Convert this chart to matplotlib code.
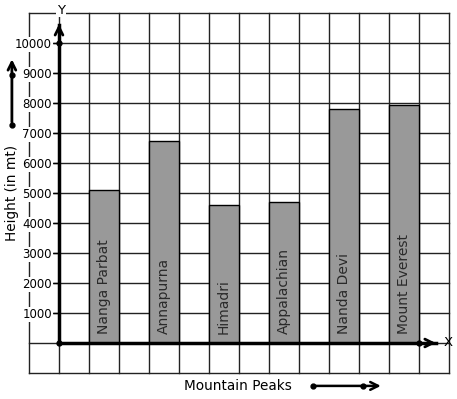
import matplotlib.pyplot as plt
import numpy as np

peaks = ["Nanga Parbat", "Annapurna", "Himadri", "Appalachian", "Nanda Devi", "Mount Everest"]
heights = [5100, 6750, 4600, 4700, 7800, 7930]
bar_left = [1, 3, 5, 7, 9, 11]          # grid column where each bar starts
y_ticks = [1000, 2000, 3000, 4000, 5000, 6000, 7000, 8000, 9000, 10000]

fig = plt.figure(figsize=(4.57, 3.99), dpi=100)
ax = fig.add_axes([29 / 457, 26 / 399, 420 / 457, 360 / 399])
ax.set_xlim(-1, 13)
ax.set_ylim(-1, 11)

# grid: one cell = 1000 m
ax.set_xticks(np.arange(-1, 14), minor=True)
ax.set_yticks(np.arange(-1, 12), minor=True)
ax.tick_params(which='minor', length=0)
ax.set_axisbelow(True)

# bars
h = np.array(heights) / 1000
ax.bar(bar_left, h, width=1, align='edge', color='#999999', edgecolor='black', linewidth=1, zorder=3)
for x0, name in zip(bar_left, peaks):
    ax.text(x0 + 0.5, 0.3, name, rotation=90, ha='center', va='bottom',
            fontsize=10, color='#2a2a2a', zorder=4)

# axes through origin
for s in ['top', 'right']:
    ax.spines[s].set_visible(False)
ax.spines['left'].set_position(('data', 0))
ax.spines['bottom'].set_position(('data', 0))
ax.spines['left'].set_bounds(0, 10.6)
ax.spines['bottom'].set_bounds(0, 12.55)
for s in ['left', 'bottom']:
    ax.spines[s].set_linewidth(2.5)
    ax.spines[s].set_zorder(5)
ax.set_xticks([])
ax.set_yticks(np.array(y_ticks) / 1000)
ax.set_yticklabels([str(v) for v in y_ticks], fontsize=8.5)
ax.tick_params(axis='y', which='major', length=4, width=1, pad=1, direction='out')
for lab in ax.get_yticklabels():
    lab.set_bbox(dict(facecolor='white', edgecolor='none', pad=1))
ax.grid(which='both', color='#222222', linewidth=1, clip_on=False)

arrow = dict(arrowstyle='->', lw=2, color='black', mutation_scale=14)
ax.annotate('', xy=(0, 10.72), xytext=(0, 10.3), arrowprops=arrow, zorder=6)
ax.annotate('', xy=(12.65, 0), xytext=(12.2, 0), arrowprops=arrow, zorder=6)
ax.plot([0, 0, 12], [0, 10, 0], 'o', color='black', ms=3.5, zorder=6, clip_on=False)
ax.text(12.97, 0, 'X', ha='center', va='center', fontsize=9.5)
ax.text(0.07, 11.1, 'Y', ha='center', va='center', fontsize=9.5,
        bbox=dict(facecolor='white', edgecolor='none', pad=0.5), zorder=6)

# side labels with arrows
ax.text(-1.57, 5.0, 'Height (in mt)', rotation=90, ha='center', va='center', fontsize=9.8)
ax.annotate('', xy=(-1.57, 9.55), xytext=(-1.57, 7.27),
            arrowprops=dict(arrowstyle='->', lw=2, color='black', mutation_scale=14),
            annotation_clip=False)
ax.plot([-1.57, -1.57], [7.27, 8.93], 'o', color='black', ms=3.5, clip_on=False)

ax.text(5.97, -1.42, 'Mountain Peaks', ha='center', va='center', fontsize=9.8)
ax.annotate('', xy=(10.82, -1.43), xytext=(8.47, -1.43),
            arrowprops=dict(arrowstyle='->', lw=1.8, color='black', mutation_scale=14),
            annotation_clip=False)
ax.plot([8.47, 10.13], [-1.43, -1.43], 'o', color='black', ms=3.5, clip_on=False)

fig.savefig('out.png', dpi=100)
